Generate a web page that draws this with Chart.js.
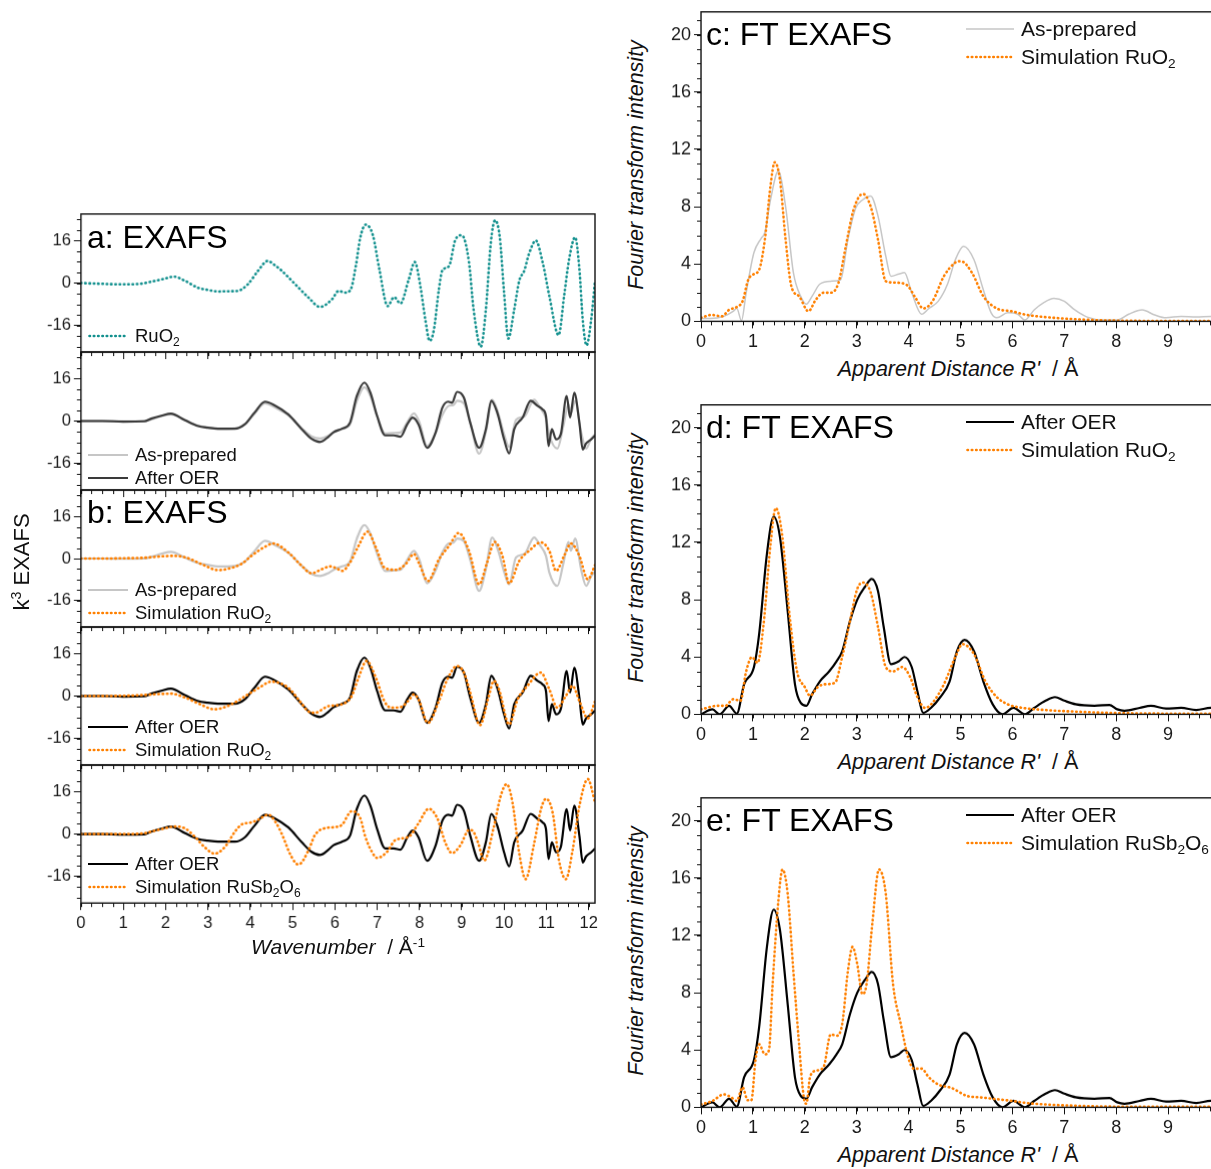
<!DOCTYPE html>
<html><head><meta charset="utf-8">
<script src="https://cdn.jsdelivr.net/npm/chart.js@4.4.1/dist/chart.umd.min.js"></script>
<style>
html,body{margin:0;padding:0;overflow:hidden;background:#fff;width:1211px;height:1169px;}
#root{position:relative;width:1211px;height:1169px;overflow:hidden;font-family:"Liberation Sans",Arial,sans-serif;color:#111;}
canvas{position:absolute;}
.t{position:absolute;white-space:nowrap;line-height:1.2;}
.lg{position:absolute;display:flex;align-items:center;white-space:nowrap;line-height:1.2;}
.lg svg{margin-right:7px;}
sub{font-size:0.65em;vertical-align:-0.3em;line-height:0;}
sup{font-size:0.65em;vertical-align:0.55em;line-height:0;}
.rot{position:absolute;white-space:nowrap;line-height:1.2;transform:translate(-50%,-50%) rotate(-90deg);}
.ctr{position:absolute;white-space:nowrap;line-height:1.2;transform:translate(-50%,-50%);}
</style></head>
<body><div id="root"></div>
<script>
// ---------- k-space EXAFS (x: wavenumber / Å^-1, y: k^3 chi) ----------
const kRef = [0,0.5,1.0,1.4,1.66,1.95,2.2,2.45,2.77,3.0,3.24,3.5,3.7,3.95,4.19,4.41,4.6,4.74,5.06,5.38,5.65,5.93,6.09,6.25,6.38,6.5,6.6,6.73,6.9,7.05,7.25,7.4,7.55,7.75,7.89,8.02,8.14,8.24,8.34,8.46,8.54,8.7,8.85,9.0,9.17,9.28,9.45,9.57,9.69,9.79,9.9,10.0,10.1,10.24,10.36,10.48,10.59,10.75,10.91,11.07,11.29,11.42,11.54,11.68,11.78,11.86,11.95,12.06,12.15];
const chiRef = [0,-0.3,-0.5,-0.3,0.5,1.5,2.4,0.9,-1.8,-2.6,-3.2,-3.1,-3.0,-0.4,4.7,8.3,6.5,4.7,-0.4,-5.5,-9.0,-6.2,-3.0,-3.6,-2.3,6.7,17,22,18,5.4,-8.7,-5.3,-7.7,1.5,7.9,-1.0,-13.8,-21.8,-17.7,-2.3,4.7,6.4,16.3,18,7.9,-10,-24,-10,15.6,23.6,17,-3.6,-20.9,-10,0.9,4.7,11,16,7.9,-4.9,-19.6,-4.9,9.2,17.2,5.4,-13.8,-23.5,-13.8,1];

const kOER = [0,0.5,1.0,1.5,1.66,1.9,2.13,2.45,2.77,3.0,3.24,3.64,3.87,4.1,4.35,4.58,4.9,5.22,5.45,5.65,5.85,5.97,6.17,6.36,6.52,6.7,6.84,7.0,7.19,7.39,7.55,7.71,7.84,7.98,8.18,8.38,8.54,8.68,8.77,8.89,9.05,9.2,9.41,9.57,9.7,9.84,10.0,10.12,10.24,10.44,10.63,10.79,10.91,10.99,11.05,11.13,11.23,11.34,11.48,11.56,11.66,11.78,11.86,11.94,12.06,12.15];
const chiOER = [0,0,-0.2,-0.1,0.9,2.0,2.8,0.4,-1.9,-2.5,-2.9,-2.9,-1.3,3.1,7.3,5.9,2.5,-3.1,-6.7,-7.9,-5.9,-4.2,-2.9,-0.6,9.4,14.5,10.7,1.9,-5.4,-5.4,-5.9,-1.3,1.3,-1.3,-10.1,-4.4,5.0,7.3,6.9,11.0,8.8,-0.6,-10.1,-3.1,7.6,3.1,-6.9,-12.2,-3.1,1.3,7.6,5.7,4.4,1.9,-9.4,-3.1,-6.9,-5.0,9.4,1.3,10.7,-0.6,-10.7,-8.4,-6.9,-5.5];

const kAP = [0,0.5,1.0,1.5,1.7,1.9,2.13,2.45,2.77,3.0,3.24,3.64,3.87,4.1,4.35,4.62,4.9,5.22,5.45,5.65,5.85,6.0,6.17,6.36,6.52,6.7,6.84,7.0,7.19,7.39,7.55,7.71,7.87,8.0,8.18,8.38,8.54,8.7,8.8,8.89,9.05,9.2,9.41,9.57,9.72,9.86,10.0,10.12,10.28,10.48,10.71,10.85,10.99,11.07,11.26,11.4,11.52,11.58,11.68,11.82,11.94,12.06,12.15];
const chiAP = [0,0,-0.1,0,0.8,1.8,2.5,0.4,-1.7,-2.4,-3.0,-2.8,-1.2,2.8,6.7,4.8,2.2,-2.8,-5.8,-6.6,-5.5,-4.0,-3.0,-1.2,7.5,12.7,9.5,1.8,-4.7,-4.5,-4.3,-0.5,2.9,-0.5,-9.4,-4.5,2.3,5.8,6.0,7.6,6.6,-0.5,-12.3,-4.0,8.0,3.0,-5.0,-9.8,0.4,1.7,8.0,5.0,1.0,-5.3,-10.4,-2.0,6.3,3.0,7.6,-4.0,-10.4,-6.6,-5.0];

const kSimAP = [0,0.5,1.0,1.5,1.9,2.2,2.5,2.9,3.24,3.5,3.8,4.03,4.3,4.55,4.9,5.2,5.45,5.7,5.89,6.05,6.17,6.36,6.56,6.77,6.97,7.17,7.44,7.67,7.87,8.0,8.2,8.46,8.7,8.93,9.17,9.41,9.6,9.78,9.96,10.12,10.36,10.59,10.87,11.07,11.23,11.42,11.58,11.78,11.98,12.15];
const chiSimAP = [0,0,0.1,0.3,0.8,1.0,0.3,-2.5,-4.4,-3.8,-2.0,1.0,4.0,5.7,2.3,-2.5,-5.6,-4.0,-3.0,-3.8,-4.7,-1.5,4.8,10.2,4.2,-3.4,-4.3,-2.2,1.7,-2.2,-8.5,-0.3,4.8,9.7,2.9,-9.8,-1.5,6.3,1.0,-9.4,-0.9,2.9,6.1,2.9,-4.7,1.0,5.7,1.0,-7.9,-2.5];

const kSimOER = [0,0.5,1.0,1.5,1.8,2.13,2.45,2.8,3.16,3.56,3.95,4.2,4.5,4.9,5.2,5.37,5.53,5.85,6.17,6.4,6.56,6.75,6.97,7.17,7.33,7.55,7.75,7.87,7.98,8.2,8.46,8.66,8.89,9.05,9.2,9.43,9.64,9.76,9.88,10.12,10.32,10.55,10.87,11.07,11.26,11.46,11.62,11.78,11.98,12.15];
const chiSimOER = [0,0,0.1,0.4,0.7,0.9,-0.5,-3.0,-5.0,-3.1,0.6,3.0,5.4,3.1,-2.5,-5.7,-6.3,-3.8,-3.1,0,6.9,13.2,6.9,-1.9,-4.4,-4.2,-1.6,0.6,-1.3,-10.1,-1.9,6.3,11.3,8.8,1.3,-11.0,0,5.7,2.5,-10.7,-1.3,3.8,8.8,2.5,-4.4,0,3.8,-1.9,-8.4,-2.0];

const kSimSb = [0,0.5,1.0,1.5,1.66,1.95,2.21,2.45,2.69,2.92,3.16,3.4,3.64,3.79,4.03,4.19,4.43,4.6,4.74,4.98,5.14,5.38,5.53,5.77,6.0,6.17,6.4,6.6,6.72,6.88,7.0,7.23,7.43,7.75,7.98,8.22,8.42,8.62,8.77,8.97,9.17,9.25,9.38,9.53,9.76,9.92,10.06,10.2,10.36,10.51,10.71,10.87,10.99,11.15,11.3,11.46,11.62,11.78,11.98,12.15];
const chiSimSb = [0,0,0,0.3,0.9,2.0,2.8,2.2,-1.0,-4.9,-7.4,-4.9,0.9,3.5,4.4,5.4,7.3,4.5,0.3,-8.7,-11.5,-6.1,-0.4,2.2,2.6,3.5,8.6,6.0,-1.0,-6.8,-9.0,-6.8,-2.3,-1.0,4.1,9.5,6.0,-3.6,-7.2,-4.2,1.5,1.3,-3.0,-10.0,2.8,14.3,18.8,11.8,-7.4,-17.0,-3.6,9.2,13.3,7.9,-10.0,-17.0,-6.1,10.5,20.7,12.0];

// ---------- R-space FT EXAFS (x: apparent distance R' / Å, y: FT intensity) ----------
const rAP = [0,0.18,0.44,0.62,0.69,0.78,0.87,1.02,1.16,1.23,1.34,1.49,1.63,1.78,1.92,2.03,2.14,2.29,2.5,2.69,2.83,2.98,3.12,3.27,3.41,3.56,3.66,3.81,3.92,4.06,4.25,4.39,4.57,4.75,4.9,5.06,5.26,5.44,5.59,5.7,5.91,6.1,6.24,6.42,6.6,6.8,7.0,7.2,7.44,7.73,8.02,8.24,8.5,8.74,8.96,9.25,9.54,9.83,10.0];
const ftAP = [0.2,0.2,0.35,0.7,0.9,0.05,2.0,4.8,5.8,6.2,8.5,10.5,8.0,3.4,1.75,1.2,1.75,2.6,2.8,2.9,5.7,7.9,8.5,8.75,7.35,4.55,3.15,3.3,3.4,2.0,0.5,0.9,1.4,2.6,4.3,5.25,4.3,2.2,0.6,0.25,0.6,0.5,0.1,0.8,1.3,1.6,1.4,0.8,0.3,0.1,0.1,0.5,0.8,0.45,0.25,0.35,0.3,0.35,0.35];

const rSimAP = [0,0.2,0.4,0.54,0.69,0.8,0.91,1.02,1.12,1.23,1.34,1.42,1.52,1.63,1.74,1.89,2.07,2.21,2.36,2.5,2.65,2.79,2.94,3.12,3.27,3.41,3.56,3.74,3.96,4.14,4.28,4.46,4.68,4.9,5.01,5.22,5.44,5.7,5.99,6.28,6.79,7.5,8.0,9.0,10.0];
const ftSimAP = [0.25,0.45,0.35,0.8,1.0,1.4,2.9,3.3,3.6,5.7,9.5,11.1,9.9,5.7,2.45,1.75,0.7,1.5,2.0,2.0,2.7,5.25,7.8,8.9,8.0,5.7,2.8,2.7,2.55,1.6,0.9,1.4,3.15,4.1,4.2,3.4,1.75,0.9,0.7,0.45,0.25,0.1,0.05,0.03,0.03];

const rOER = [0,0.22,0.36,0.54,0.69,0.83,1.02,1.12,1.27,1.4,1.52,1.67,1.81,1.92,2.03,2.14,2.29,2.47,2.61,2.72,2.87,3.01,3.16,3.29,3.41,3.52,3.66,3.81,3.92,4.06,4.17,4.28,4.43,4.61,4.79,4.93,5.08,5.26,5.44,5.62,5.81,6.02,6.24,6.42,6.64,6.82,7.0,7.22,7.58,7.87,8.02,8.16,8.45,8.67,8.96,9.25,9.54,9.82,10.0];
const ftOER = [0,0.35,0,0.6,0.05,2.1,3.3,5.6,11.2,13.8,12.4,7.2,2.1,0.8,0.6,1.4,2.3,3.0,3.7,4.4,6.5,8.0,8.9,9.45,8.6,6.1,3.5,3.7,4.0,3.3,1.6,0.1,0.45,1.2,2.3,4.4,5.2,4.4,2.3,0.7,0,0.45,0,0.45,0.95,1.2,0.95,0.7,0.6,0.65,0.35,0.25,0.45,0.6,0.4,0.45,0.3,0.45,0.45];

const rSimOER = [0,0.33,0.47,0.62,0.76,0.87,0.98,1.09,1.2,1.34,1.44,1.56,1.71,1.85,2.0,2.1,2.25,2.39,2.58,2.72,2.87,3.01,3.12,3.27,3.41,3.56,3.7,3.88,4.03,4.17,4.32,4.46,4.68,4.9,5.04,5.26,5.48,5.7,5.91,6.2,6.64,7.15,7.87,9.0,10.0];
const ftSimOER = [0.35,0.6,0.6,1.05,0.95,3.0,4.0,3.6,6.1,11.9,14.4,12.6,6.8,3.0,1.9,1.3,1.9,2.1,2.2,4.0,6.5,8.75,9.2,8.5,6.1,3.3,3.0,3.3,2.6,1.2,0.45,0.8,2.1,4.0,4.9,4.2,2.3,1.2,0.7,0.45,0.3,0.2,0.1,0.05,0.05];

const rSimSb = [0,0.22,0.44,0.58,0.69,0.8,0.9,0.97,1.05,1.12,1.23,1.31,1.38,1.49,1.57,1.67,1.78,1.89,1.98,2.03,2.1,2.21,2.36,2.5,2.61,2.72,2.83,2.92,3.01,3.11,3.19,3.3,3.43,3.56,3.7,3.85,3.99,4.1,4.25,4.39,4.57,4.83,5.12,5.37,5.62,5.99,6.28,6.64,7.15,8.0,9.0,10.0];
const ftSimSb = [0.2,0.45,0.9,0.7,0.45,1.4,0.5,0.5,3.3,4.4,3.7,4.0,8.6,14.4,16.6,14.9,9.5,4.4,0.7,0.25,2.1,2.55,2.8,5.1,5.0,5.8,9.5,11.2,10.0,7.9,8.6,12.8,16.6,14.9,8.6,5.8,3.5,2.7,2.7,2.1,1.6,1.35,0.8,0.7,0.6,0.45,0.3,0.2,0.12,0.05,0.05,0.05];

// ---------- tick labels ----------
const kTicks = [0,1,2,3,4,5,6,7,8,9,10,11,12];
const chiTicks = [-16,0,16];
const rTicks = [0,1,2,3,4,5,6,7,8,9];
const ftTicks = [0,4,8,12,16,20];

// ---------- styles ----------
const TEAL='#12908e', ORANGE='#ff8000', LGRAY='#c6c6c6', DGRAY='#3a3a3a', BLACK='#000000';
const DOT=[0.5,3.8];
const FONT='"Liberation Sans", Arial, sans-serif';
const root=document.getElementById('root');

function steps(a,b,s){const o=[];for(let v=a;v<=b+1e-9;v+=s)o.push(Math.round(v*1000)/1000);return o;}

const framePlugin={
  id:'frame',
  afterDraw(chart,args,opts){
    const {ctx,chartArea:a,scales}=chart; const x=scales.x,y=scales.y;
    ctx.save();
    ctx.strokeStyle='#111'; ctx.lineWidth=1.4;
    ctx.strokeRect(a.left,a.top,a.right-a.left,a.bottom-a.top);
    ctx.lineWidth=1; ctx.beginPath();
    opts.xMinor.forEach(v=>{const p=Math.round(x.getPixelForValue(v))+0.5; if(p>=a.left-1&&p<=a.right+1){ctx.moveTo(p,a.bottom);ctx.lineTo(p,a.bottom+4);}});
    opts.yMinor.forEach(v=>{const p=Math.round(y.getPixelForValue(v))+0.5; if(p>=a.top-1&&p<=a.bottom+1){ctx.moveTo(a.left,p);ctx.lineTo(a.left-4,p);}});
    ctx.stroke(); ctx.restore();
  }
};

function axisCfg(min,max,majors,showLabels,fs){
  return {type:'linear',min:min,max:max,
    afterBuildTicks:sc=>{sc.ticks=majors.map(v=>({value:v}));},
    ticks:{display:showLabels,autoSkip:false,maxRotation:0,font:{family:FONT,size:fs},color:'#1a1a1a',padding:3,callback:v=>String(v)},
    grid:{display:true,drawOnChartArea:false,drawTicks:true,tickLength:7,color:'#111',lineWidth:1},
    border:{display:false}};
}

function addChart(spec){
  const canvas=document.createElement('canvas'); root.appendChild(canvas);
  let W=spec.w+110, H=spec.h+(spec.xLabels?45:20);
  const mk=()=>{
    canvas.width=W; canvas.height=H; canvas.style.width=W+'px'; canvas.style.height=H+'px';
    return new Chart(canvas.getContext('2d'),{
      type:'line',
      data:{datasets:spec.series.map(s=>({
        data:s.x.map((xv,i)=>({x:xv,y:s.y[i]})),
        borderColor:s.color,borderWidth:s.width,borderDash:s.dash||[],
        borderCapStyle:s.dash?'round':'butt',borderJoinStyle:'round',
        pointRadius:0,fill:false,cubicInterpolationMode:'monotone'}))},
      options:{responsive:false,animation:false,devicePixelRatio:1,
        layout:{padding:{top:6,right:6,left:0,bottom:0}},
        plugins:{legend:{display:false},tooltip:{enabled:false},
          frame:{xMinor:spec.xMinor,yMinor:spec.yMinor}},
        scales:{x:axisCfg(spec.xMin,spec.xMax,spec.xMajor,spec.xLabels,spec.fs),
                y:axisCfg(spec.yMin,spec.yMax,spec.yMajor,true,spec.fs)}},
      plugins:[framePlugin]});
  };
  let ch=mk(); let ca=ch.chartArea;
  W+=spec.w-(ca.right-ca.left); H+=spec.h-(ca.bottom-ca.top);
  ch.destroy(); ch=mk(); ca=ch.chartArea;
  canvas.style.left=(spec.l-ca.left)+'px'; canvas.style.top=(spec.t-ca.top)+'px';
  return ch;
}

// ---------- left: k-space panels ----------
const leftPanels=[
  {t:214,h:138,series:[{x:kRef,y:chiRef,color:TEAL,width:2.6,dash:DOT}]},
  {t:352,h:138,series:[{x:kOER,y:chiOER,color:DGRAY,width:2.2},{x:kAP,y:chiAP,color:LGRAY,width:2.2}]},
  {t:490,h:137,series:[{x:kSimAP,y:chiSimAP,color:ORANGE,width:2.6,dash:DOT},{x:kAP,y:chiAP,color:LGRAY,width:2.2}]},
  {t:627,h:138,series:[{x:kSimOER,y:chiSimOER,color:ORANGE,width:2.6,dash:DOT},{x:kOER,y:chiOER,color:BLACK,width:2.2}]},
  {t:765,h:138,series:[{x:kSimSb,y:chiSimSb,color:ORANGE,width:2.6,dash:DOT},{x:kOER,y:chiOER,color:BLACK,width:2.2}]}
];
leftPanels.forEach((p,i)=>addChart({l:81,t:p.t,w:514,h:p.h,xMin:0,xMax:12.15,yMin:-26,yMax:26,
  xMajor:kTicks,yMajor:chiTicks,xMinor:steps(0,12.15,0.25),yMinor:steps(-24,24,4),fs:16.5,
  xLabels:i===leftPanels.length-1,series:p.series}));

// ---------- right: FT panels ----------
const rightPanels=[
  {t:12,series:[{x:rSimAP,y:ftSimAP,color:ORANGE,width:2.6,dash:DOT},{x:rAP,y:ftAP,color:LGRAY,width:1.5}]},
  {t:405,series:[{x:rSimOER,y:ftSimOER,color:ORANGE,width:2.6,dash:DOT},{x:rOER,y:ftOER,color:BLACK,width:2.2}]},
  {t:798,series:[{x:rSimSb,y:ftSimSb,color:ORANGE,width:2.6,dash:DOT},{x:rOER,y:ftOER,color:BLACK,width:2.2}]}
];
rightPanels.forEach(p=>addChart({l:701,t:p.t,w:519,h:309,xMin:0,xMax:10,yMin:0,yMax:21.6,
  xMajor:rTicks,yMajor:ftTicks,xMinor:steps(0,10,0.2),yMinor:steps(0,21,1),fs:18,
  xLabels:true,series:p.series}));

// ---------- text: titles, legends, axis titles ----------
function el(cls,html,style){const d=document.createElement('div');d.className=cls;d.innerHTML=html;Object.assign(d.style,style);root.appendChild(d);return d;}
function sample(w,color,width,dotted){
  const dash=dotted?`stroke-dasharray="${DOT.join(' ')}" stroke-linecap="round"`:'';
  return `<svg width="${w}" height="10" style="flex:none"><line x1="${dotted?1.5:0}" y1="5" x2="${w}" y2="5" stroke="${color}" stroke-width="${width}" ${dash}/></svg>`;
}
function legend(x,y,size,w,color,width,dotted,html){
  el('lg',sample(w,color,width,dotted)+`<span>${html}</span>`,{left:x+'px',top:(y-size*0.6)+'px',fontSize:size+'px',height:(size*1.2)+'px'});
}
const L=18.5, R=21;
legend(88,336,L,40,TEAL,2.6,true,'RuO<sub>2</sub>');
legend(88,455,L,40,LGRAY,2.2,false,'As-prepared');
legend(88,478,L,40,DGRAY,2.2,false,'After OER');
legend(88,590,L,40,LGRAY,2.2,false,'As-prepared');
legend(88,613,L,40,ORANGE,2.6,true,'Simulation RuO<sub>2</sub>');
legend(88,727,L,40,BLACK,2.2,false,'After OER');
legend(88,750,L,40,ORANGE,2.6,true,'Simulation RuO<sub>2</sub>');
legend(88,864,L,40,BLACK,2.2,false,'After OER');
legend(88,887,L,40,ORANGE,2.6,true,'Simulation RuSb<sub>2</sub>O<sub>6</sub>');
legend(966,29,R,48,LGRAY,1.5,false,'As-prepared');
legend(966,57,R,48,ORANGE,2.6,true,'Simulation RuO<sub>2</sub>');
legend(966,422,R,48,BLACK,2.2,false,'After OER');
legend(966,450,R,48,ORANGE,2.6,true,'Simulation RuO<sub>2</sub>');
legend(966,815,R,48,BLACK,2.2,false,'After OER');
legend(966,843,R,48,ORANGE,2.6,true,'Simulation RuSb<sub>2</sub>O<sub>6</sub>');

const TS=32;
[['a: EXAFS',87,237],['b: EXAFS',87,512],['c: FT EXAFS',706,34],['d: FT EXAFS',706,427],['e: FT EXAFS',706,820]]
  .forEach(([s,x,y])=>el('t',s,{left:x+'px',top:(y-TS*0.6)+'px',fontSize:TS+'px',color:'#000'}));

el('ctr','<i>Wavenumber</i>&nbsp; / Å<sup>-1</sup>',{left:'338px',top:'947px',fontSize:'21px'});
[370,763,1156].forEach(y=>el('ctr',"<i>Apparent Distance R'</i>&nbsp; / Å",{left:'958px',top:y+'px',fontSize:'21.5px'}));
el('rot','k<sup>3</sup> EXAFS',{left:'22px',top:'562px',fontSize:'22px'});
[165,558,951].forEach(y=>el('rot','<i>Fourier transform intensity</i>',{left:'637px',top:y+'px',fontSize:'21.5px'}));
</script></body></html>
